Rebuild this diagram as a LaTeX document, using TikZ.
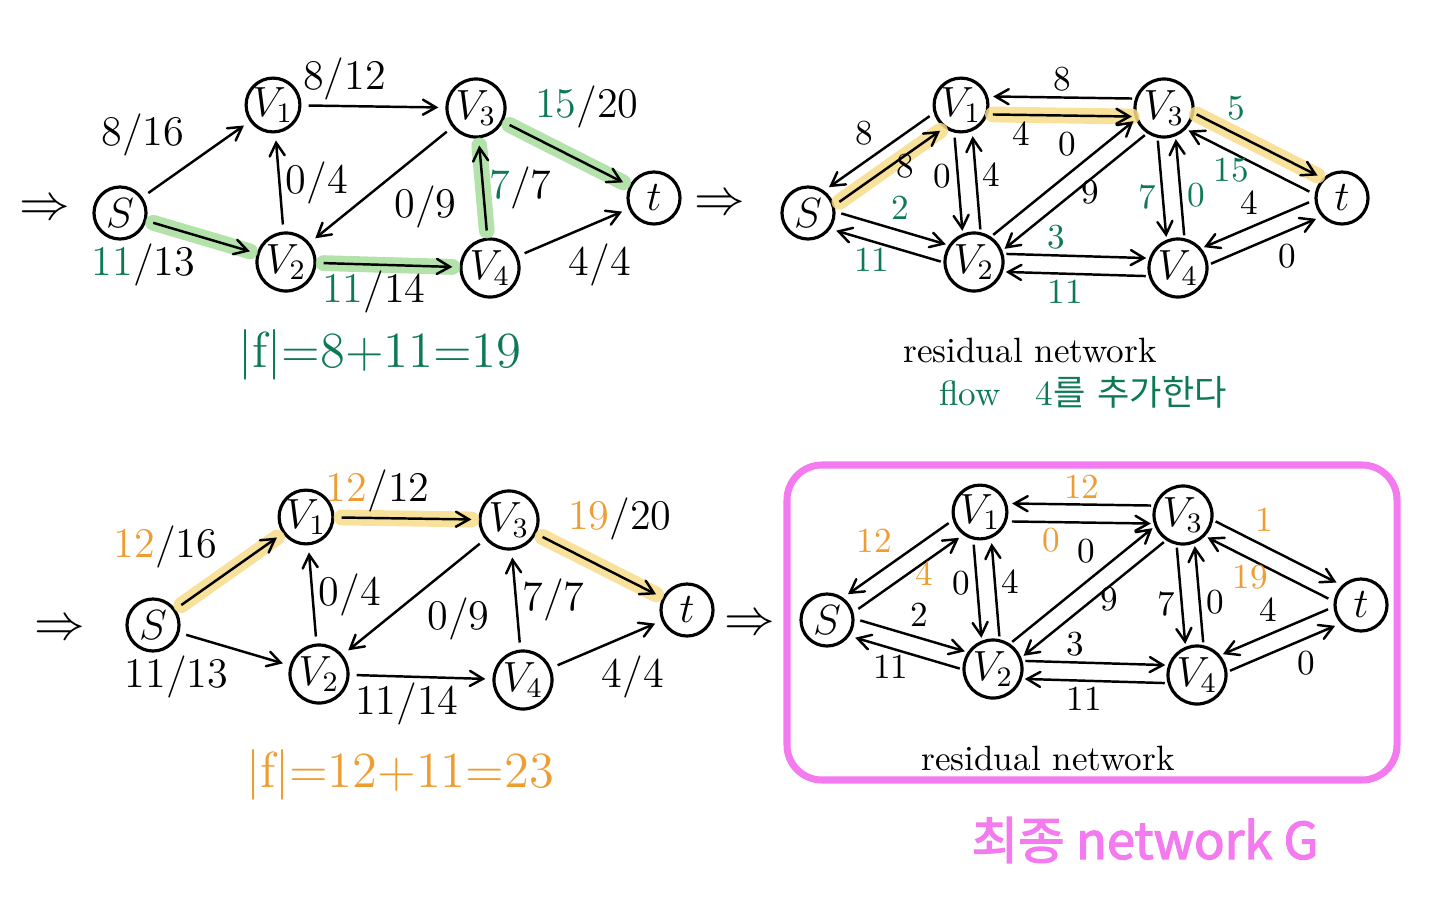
\documentclass[tikz,border=0pt]{standalone}
\usepackage{fontspec}
\newfontfamily\kr{Noto Sans CJK KR}
\newfontfamily\krb[FakeBold=2.5]{Noto Sans CJK KR}
\usepackage{tikz}
\usetikzlibrary{arrows, positioning, calc}
\definecolor{penGreen}{HTML}{0E7A55}
\definecolor{hlGreen}{HTML}{A6DE9C}
\definecolor{hlYellow}{HTML}{F7DC88}
\definecolor{penOrange}{HTML}{EE9D33}
\definecolor{penPink}{HTML}{F37AEF}
\newcommand{\grn}[1]{\textcolor{penGreen}{#1}}
\newcommand{\org}[1]{\textcolor{penOrange}{#1}}
% residual arc: options, from, to, side offset, label
\newcommand{\resarc}[5][]{%
  \draw[redge,#1] ($(#2)!#4!90:(#3)$) -- ($(#3)!#4!-90:(#2)$) #5;}

\begin{document}
\begin{tikzpicture}[x=0.01cm, y=-0.01cm]
    \tikzstyle{vtx} = [circle, draw, line width=0.9pt, minimum size=0.52cm,
        inner sep=0pt, font=\large]
    \tikzstyle{big} = [minimum size=0.58cm]
    \tikzstyle{edge} = [draw, ->, >={angle 60}, line width=0.7pt,
        shorten >=2pt, shorten <=2pt]
    \tikzstyle{redge} = [edge, shorten >=0.32cm, shorten <=0.32cm]
    \tikzstyle{lbl} = [font=\large, inner sep=1.5pt]
    \tikzstyle{rlbl} = [font=\normalsize, inner sep=1.5pt]
    \tikzset{hl/.style={preaction={draw=#1, -, line width=4.5pt,
        line cap=round, opacity=.85}}}

    \useasboundingbox (0,0) rectangle (1440,900);

    % first network: flow / capacity
    \node (arrA) at (45,210) {\Large$\Rightarrow$};
    \begin{scope}[shift={(120,213)}]
    \node [vtx] (a-s) at (0,0) {$S$};
    \node [vtx] (a-v1) at (153,-108) {$V_1$};
    \node [vtx, big] (a-v2) at (166,49) {$V_2$};
    \node [vtx, big] (a-v3) at (356,-105) {$V_3$};
    \node [vtx, big] (a-v4) at (370,55) {$V_4$};
    \node [vtx] (a-t) at (534,-15) {$t$};
    \end{scope}
    \path [edge] (a-s) -- (a-v1) node [lbl, pos=.45, above left] {8/16};
    \path [edge, hl=hlGreen] (a-s) -- (a-v2) node [lbl, pos=.5, below left] {\grn{11}/13};
    \path [edge] (a-v1) -- (a-v3) node [lbl, pos=.3, above] {8/12};
    \path [edge] (a-v2) -- (a-v1) node [lbl, midway, right] {0/4};
    \path [edge] (a-v3) -- (a-v2) node [lbl, pos=.45, below right] {0/9};
    \path [edge, hl=hlGreen] (a-v2) -- (a-v4) node [lbl, pos=.4, below] {\grn{11}/14};
    \path [edge, hl=hlGreen] (a-v4) -- (a-v3) node [lbl, midway, right] {\grn{7}/7};
    \path [edge, hl=hlGreen] (a-v3) -- (a-t) node [lbl, pos=.2, above right] {\grn{15}/20};
    \path [edge] (a-v4) -- (a-t) node [lbl, pos=.4, below right] {4/4};
    \node [font=\Large, text=penGreen] (a-val) at (380,355) {|f|=8+11=19};

    % second network: residual
    \node (arrB) at (720,205) {\Large$\Rightarrow$};
    \begin{scope}[shift={(808,213)}]
    \node [vtx] (b-s) at (0,0) {$S$};
    \node [vtx] (b-v1) at (153,-108) {$V_1$};
    \node [vtx, big] (b-v2) at (166,49) {$V_2$};
    \node [vtx, big] (b-v3) at (356,-105) {$V_3$};
    \node [vtx, big] (b-v4) at (370,55) {$V_4$};
    \node [vtx] (b-t) at (534,-15) {$t$};
    \end{scope}
    \resarc[hl=hlYellow]{b-s}{b-v1}{-0.09cm}{node [rlbl, pos=.5, right] {8}}
    \resarc{b-v1}{b-s}{-0.09cm}{node [rlbl, midway, above left] {8}}
    \resarc{b-s}{b-v2}{0.09cm}{node [rlbl, pos=.45, above right, text=penGreen] {2}}
    \resarc{b-v2}{b-s}{0.09cm}{node [rlbl, pos=.6, below, text=penGreen] {11}}
    \resarc{b-v3}{b-v1}{-0.09cm}{node [rlbl, midway, above] {8}}
    \resarc[hl=hlYellow]{b-v1}{b-v3}{-0.09cm}{node [rlbl, pos=.3, below] {4}}
    \resarc{b-v1}{b-v2}{-0.09cm}{node [rlbl, pos=.45, left] {0}}
    \resarc{b-v2}{b-v1}{-0.09cm}{node [rlbl, pos=.55, right] {4}}
    \resarc{b-v2}{b-v3}{0.09cm}{node [rlbl, pos=.6, above left] {0}}
    \resarc{b-v3}{b-v2}{0.09cm}{node [rlbl, pos=.5, right] {9}}
    \resarc{b-v2}{b-v4}{0.09cm}{node [rlbl, pos=.4, above, text=penGreen] {3}}
    \resarc{b-v4}{b-v2}{0.09cm}{node [rlbl, pos=.55, below, text=penGreen] {11}}
    \resarc{b-v3}{b-v4}{-0.09cm}{node [rlbl, pos=.55, left, text=penGreen] {7}}
    \resarc{b-v4}{b-v3}{-0.09cm}{node [rlbl, pos=.45, right, text=penGreen] {0}}
    \resarc[hl=hlYellow]{b-v3}{b-t}{0.09cm}{node [rlbl, pos=.3, above right, text=penGreen] {5}}
    \resarc{b-t}{b-v3}{0.09cm}{node [rlbl, pos=.6, below, text=penGreen] {15}}
    \resarc{b-t}{b-v4}{-0.09cm}{node [rlbl, pos=.45, above left] {4}}
    \resarc{b-v4}{b-t}{-0.09cm}{node [rlbl, pos=.55, below right] {0}}
    \node (b-cap) at (1030,350) {residual network};
    \node [text=penGreen] (b-note) at (1083,392) {flow\quad 4{\kr 를} {\kr 추가한다}};

    % third network: flow after augmenting
    \node (arrC) at (60,630) {\Large$\Rightarrow$};
    \begin{scope}[shift={(153,625)}]
    \node [vtx] (c-s) at (0,0) {$S$};
    \node [vtx] (c-v1) at (153,-108) {$V_1$};
    \node [vtx, big] (c-v2) at (166,49) {$V_2$};
    \node [vtx, big] (c-v3) at (356,-105) {$V_3$};
    \node [vtx, big] (c-v4) at (370,55) {$V_4$};
    \node [vtx] (c-t) at (534,-15) {$t$};
    \end{scope}
    \path [edge, hl=hlYellow] (c-s) -- (c-v1) node [lbl, pos=.45, above left] {\org{12}/16};
    \path [edge] (c-s) -- (c-v2) node [lbl, pos=.5, below left] {11/13};
    \path [edge, hl=hlYellow] (c-v1) -- (c-v3) node [lbl, pos=.3, above] {\org{12}/12};
    \path [edge] (c-v2) -- (c-v1) node [lbl, midway, right] {0/4};
    \path [edge] (c-v3) -- (c-v2) node [lbl, pos=.45, below right] {0/9};
    \path [edge] (c-v2) -- (c-v4) node [lbl, pos=.4, below] {11/14};
    \path [edge] (c-v4) -- (c-v3) node [lbl, midway, right] {7/7};
    \path [edge, hl=hlYellow] (c-v3) -- (c-t) node [lbl, pos=.2, above right] {\org{19}/20};
    \path [edge] (c-v4) -- (c-t) node [lbl, pos=.4, below right] {4/4};
    \node [font=\Large, text=penOrange] (c-val) at (400,775) {|f|=12+11=23};

    % final residual network G
    \node (arrD) at (750,625) {\Large$\Rightarrow$};
    \draw [penPink, line width=2pt, rounded corners=0.35cm] (787,465) rectangle (1397,780);
    \begin{scope}[shift={(827,620)}]
    \node [vtx] (d-s) at (0,0) {$S$};
    \node [vtx] (d-v1) at (153,-108) {$V_1$};
    \node [vtx, big] (d-v2) at (166,49) {$V_2$};
    \node [vtx, big] (d-v3) at (356,-105) {$V_3$};
    \node [vtx, big] (d-v4) at (370,55) {$V_4$};
    \node [vtx] (d-t) at (534,-15) {$t$};
    \end{scope}
    \resarc{d-s}{d-v1}{-0.09cm}{node [rlbl, pos=.5, right, text=penOrange] {4}}
    \resarc{d-v1}{d-s}{-0.09cm}{node [rlbl, midway, above left, text=penOrange] {12}}
    \resarc{d-s}{d-v2}{0.09cm}{node [rlbl, pos=.45, above right] {2}}
    \resarc{d-v2}{d-s}{0.09cm}{node [rlbl, pos=.6, below] {11}}
    \resarc{d-v3}{d-v1}{-0.09cm}{node [rlbl, midway, above, text=penOrange] {12}}
    \resarc{d-v1}{d-v3}{-0.09cm}{node [rlbl, pos=.35, below, text=penOrange] {0}}
    \resarc{d-v1}{d-v2}{-0.09cm}{node [rlbl, pos=.45, left] {0}}
    \resarc{d-v2}{d-v1}{-0.09cm}{node [rlbl, pos=.55, right] {4}}
    \resarc{d-v2}{d-v3}{0.09cm}{node [rlbl, pos=.6, above left] {0}}
    \resarc{d-v3}{d-v2}{0.09cm}{node [rlbl, pos=.5, right] {9}}
    \resarc{d-v2}{d-v4}{0.09cm}{node [rlbl, pos=.4, above] {3}}
    \resarc{d-v4}{d-v2}{0.09cm}{node [rlbl, pos=.55, below] {11}}
    \resarc{d-v3}{d-v4}{-0.09cm}{node [rlbl, pos=.55, left] {7}}
    \resarc{d-v4}{d-v3}{-0.09cm}{node [rlbl, pos=.45, right] {0}}
    \resarc{d-v3}{d-t}{0.09cm}{node [rlbl, pos=.35, above right, text=penOrange] {1}}
    \resarc{d-t}{d-v3}{0.09cm}{node [rlbl, pos=.6, below, text=penOrange] {19}}
    \resarc{d-t}{d-v4}{-0.09cm}{node [rlbl, pos=.45, above left] {4}}
    \resarc{d-v4}{d-t}{-0.09cm}{node [rlbl, pos=.55, below right] {0}}
    \node (d-cap) at (1048,758) {residual network};
    \node [font=\krb\Large, text=penPink] (d-title) at (1145,840) {최종 network G};

\end{tikzpicture}
\end{document}
